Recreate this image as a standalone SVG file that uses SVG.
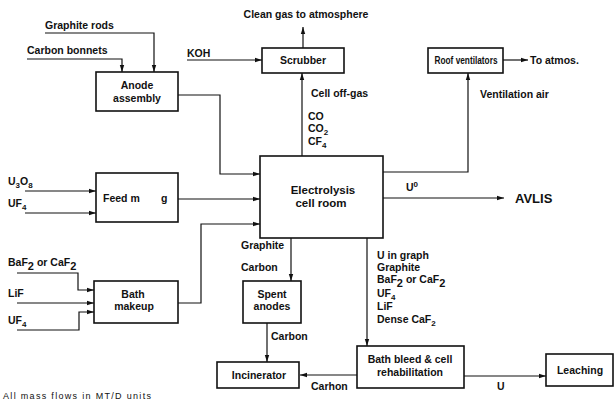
<svg xmlns="http://www.w3.org/2000/svg" width="614" height="406" viewBox="0 0 614 406">
<defs>
<marker id="ah" markerWidth="8" markerHeight="6" refX="7" refY="3" orient="auto" markerUnits="userSpaceOnUse">
<path d="M0,0.8 L7,3 L0,5.2 Z" fill="#111"/>
</marker>
<style>
.box{fill:#fff;stroke:#111;stroke-width:1.6}
.ar{fill:none;stroke:#111;stroke-width:1.2;marker-end:url(#ah)}
text{font-family:"Liberation Sans",Arial,sans-serif;font-weight:bold;font-size:10.5px;fill:#111}
.c{text-anchor:middle}
.big{font-size:13px}
.el{font-size:11.5px}
.sm{font-size:9px;font-weight:normal}
</style>
</defs>
<rect width="614" height="406" fill="#fff"/>
<g id="connectors">
<polyline class="ar" points="45,33 154,33 154,72"/>
<polyline class="ar" points="27,59 122,59 122,72"/>
<line class="ar" x1="187" y1="60" x2="262" y2="60"/>
<line class="ar" x1="303" y1="48" x2="303" y2="27"/>
<line class="ar" x1="503" y1="60" x2="528" y2="60"/>
<polyline class="ar" points="178,95 220,95 220,174 260,174"/>
<line class="ar" x1="302" y1="156" x2="302" y2="73"/>
<polyline class="ar" points="383,172 468,172 468,73"/>
<line class="ar" x1="383" y1="198" x2="504" y2="198"/>
<line class="ar" x1="25" y1="191" x2="96" y2="191"/>
<line class="ar" x1="25" y1="213" x2="96" y2="213"/>
<line class="ar" x1="178" y1="199" x2="260" y2="199"/>
<polyline class="ar" points="178,303 201,303 201,224 260,224"/>
<polyline class="ar" points="17,273 78,273 78,290 94,290"/>
<line class="ar" x1="17" y1="303" x2="94" y2="303"/>
<polyline class="ar" points="17,330 79,330 79,312 94,312"/>
<line class="ar" x1="291" y1="238" x2="291" y2="281"/>
<line class="ar" x1="367" y1="238" x2="367" y2="346"/>
<line class="ar" x1="267" y1="323" x2="267" y2="362"/>
<line class="ar" x1="357" y1="375" x2="300" y2="375"/>
<line class="ar" x1="464" y1="376" x2="546" y2="376"/>
</g>
<g id="anode">
<rect class="box" x="96" y="72" width="82" height="39"/>
<text class="c" x="137" y="89">Anode</text>
<text class="c" x="137" y="102">assembly</text>
</g>
<g id="scrubber">
<rect class="box" x="262" y="48" width="82" height="25"/>
<text class="c" x="303" y="64">Scrubber</text>
</g>
<g id="roof">
<rect class="box" x="428" y="48" width="75" height="25"/>
<text class="c" x="466" y="64" textLength="63" lengthAdjust="spacingAndGlyphs">Roof ventilators</text>
</g>
<g id="electrolysis">
<rect class="box" x="260" y="156" width="123" height="82"/>
<text class="c el" x="323" y="194">Electrolysis</text>
<text class="c el" x="321" y="207">cell room</text>
</g>
<g id="feed">
<rect class="box" x="96" y="173" width="82" height="49"/>
<text x="103" y="202">Feed m</text>
<text x="161" y="202">g</text>
</g>
<g id="bath">
<rect class="box" x="94" y="281" width="84" height="42"/>
<text class="c" x="133" y="298">Bath</text>
<text class="c" x="134" y="310">makeup</text>
</g>
<g id="spent">
<rect class="box" x="243" y="281" width="58" height="42"/>
<text class="c" x="272" y="298">Spent</text>
<text class="c" x="272" y="310">anodes</text>
</g>
<g id="incinerator">
<rect class="box" x="217" y="362" width="82" height="26"/>
<text class="c" x="259" y="379">Incinerator</text>
</g>
<g id="bleed">
<rect class="box" x="357" y="346" width="107" height="42"/>
<text class="c" x="410" y="363">Bath bleed &amp; cell</text>
<text class="c" x="410" y="376">rehabilitation</text>
</g>
<g id="leaching">
<rect class="box" x="546" y="354" width="67" height="32"/>
<text class="c" x="580" y="374">Leaching</text>
</g>
<g id="labels">
<text class="c" x="306" y="18">Clean gas to atmosphere</text>
<text x="45" y="29">Graphite rods</text>
<text x="27" y="54">Carbon bonnets</text>
<text x="187" y="57">KOH</text>
<text x="530" y="64">To atmos.</text>
<text x="311" y="97">Cell off-gas</text>
<text x="308" y="120">CO</text>
<text x="308" y="132">CO<tspan font-size="8" dy="3">2</tspan></text>
<text x="308" y="145">CF<tspan font-size="8" dy="3">4</tspan></text>
<text x="480" y="98">Ventilation air</text>
<text x="406" y="191">U<tspan font-size="8" dy="-4">0</tspan></text>
<text class="big" x="515" y="203">AVLIS</text>
<text x="8" y="185">U<tspan font-size="8" dy="3">3</tspan><tspan dy="-3">O</tspan><tspan font-size="8" dy="3">8</tspan></text>
<text x="8" y="207">UF<tspan font-size="8" dy="3">4</tspan></text>
<text x="8" y="266">BaF<tspan font-size="11" dy="4">2</tspan><tspan dy="-4"> or CaF</tspan><tspan font-size="11" dy="4">2</tspan></text>
<text x="8" y="297">LiF</text>
<text x="8" y="324">UF<tspan font-size="8" dy="3">4</tspan></text>
<text x="241" y="249">Graphite</text>
<text x="241" y="271">Carbon</text>
<text x="271" y="340">Carbon</text>
<text x="311" y="390">Carhon</text>
<text x="497" y="390">U</text>
<text x="377" y="259">U in graph</text>
<text x="377" y="271">Graphite</text>
<text x="377" y="283">BaF<tspan font-size="11" dy="4">2</tspan><tspan dy="-4"> or CaF</tspan><tspan font-size="11" dy="4">2</tspan></text>
<text x="377" y="297">UF<tspan font-size="8" dy="3">4</tspan></text>
<text x="377" y="310">LiF</text>
<text x="377" y="323">Dense CaF<tspan font-size="8" dy="3">2</tspan></text>
<text class="sm" x="3" y="399" textLength="148" lengthAdjust="spacing">All mass flows in MT/D units</text>
</g>
</svg>
